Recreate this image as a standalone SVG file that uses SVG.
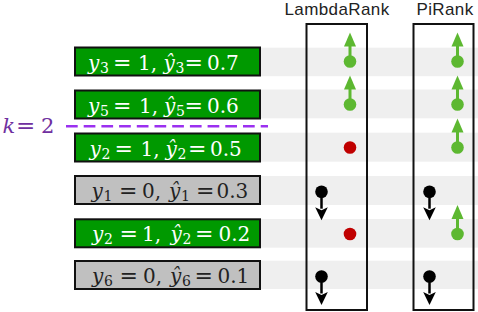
<svg xmlns="http://www.w3.org/2000/svg" xmlns:xlink="http://www.w3.org/1999/xlink" width="478" height="312" viewBox="0 0 478 312">
<style>
.band{fill:#efefef}
.box{stroke:#111;stroke-width:2}
.pos{fill:#009900}
.neg{fill:#c0c0c0}
.t{font-family:"DejaVu Serif","Liberation Serif",serif;font-size:20px}
.tw{fill:#ffffff}
.tb{fill:#222222}
.i{font-style:italic}
.s{font-size:14px}
.e{font-size:22px}
.col{fill:none;stroke:#111;stroke-width:2}
.hdr{font-family:"Liberation Sans",Arial,sans-serif;font-size:17px;fill:#222;text-anchor:middle;letter-spacing:0.4px}
</style>
<defs>
<g id="up">
<line x1="0" y1="0" x2="0" y2="-16" stroke="#5db831" stroke-width="3"/>
<polygon points="0,-29 -6,-15 6,-15" fill="#5db831"/>
<circle cx="0" cy="0" r="6.3" fill="#5db831"/>
</g>
<g id="down">
<line x1="0" y1="0" x2="0" y2="17" stroke="#000" stroke-width="2.5"/>
<polygon points="0,28.5 -6.3,15.5 0,18.5 6.3,15.5" fill="#000"/>
<circle cx="0" cy="0" r="6.3" fill="#000"/>
</g>
</defs>
<g id="bands">
<rect class="band" x="258" y="47.7" width="220" height="28.5"/>
<rect class="band" x="258" y="89.5" width="220" height="28.8"/>
<rect class="band" x="258" y="132.7" width="220" height="29"/>
<rect class="band" x="258" y="176" width="220" height="29"/>
<rect class="band" x="258" y="219" width="220" height="28.7"/>
<rect class="band" x="258" y="260.7" width="220" height="28.3"/>
</g>
<g id="header">
<text class="hdr" x="337" y="15">LambdaRank</text>
<text class="hdr" x="445" y="15">PiRank</text>
</g>
<g id="col-lambda"><rect class="col" x="306.5" y="24" width="60.5" height="286"/></g>
<g id="col-pirank"><rect class="col" x="413.5" y="24" width="60" height="286"/></g>
<g id="k-line">
<text x="2.5" y="132.5" font-family="DejaVu Serif,Liberation Serif,serif" font-size="21" fill="#7030a0"><tspan font-style="italic">k</tspan><tspan x="16" font-size="23">=</tspan><tspan x="41">2</tspan></text>
<line x1="66" y1="126.3" x2="268" y2="126.3" stroke="#9b30f0" stroke-width="2.6" stroke-dasharray="11.7 6"/>
</g>
<g id="row1">
<rect class="box pos" x="75" y="47.5" width="185" height="28"/>
<text class="t tw" y="69.5"><tspan class="i" x="88">y</tspan><tspan class="s" x="100" dy="3">3</tspan><tspan class="e" x="113" dy="-3">=</tspan><tspan x="138">1,</tspan><tspan class="i" x="163.5">ŷ</tspan><tspan class="s" x="175.5" dy="3">3</tspan><tspan class="e" x="184.5" dy="-3">=</tspan><tspan x="207">0.7</tspan></text>
</g>
<g id="row2">
<rect class="box pos" x="75" y="90.5" width="185" height="28"/>
<text class="t tw" y="112.5"><tspan class="i" x="88">y</tspan><tspan class="s" x="100" dy="3">5</tspan><tspan class="e" x="113" dy="-3">=</tspan><tspan x="139">1,</tspan><tspan class="i" x="164">ŷ</tspan><tspan class="s" x="176" dy="3">5</tspan><tspan class="e" x="184.5" dy="-3">=</tspan><tspan x="207">0.6</tspan></text>
</g>
<g id="row3">
<rect class="box pos" x="75" y="133.5" width="185" height="28"/>
<text class="t tw" y="155.5"><tspan class="i" x="89.5">y</tspan><tspan class="s" x="101.5" dy="3">2</tspan><tspan class="e" x="114.5" dy="-3">=</tspan><tspan x="140.5">1,</tspan><tspan class="i" x="165.5">ŷ</tspan><tspan class="s" x="177.5" dy="3">2</tspan><tspan class="e" x="188" dy="-3">=</tspan><tspan x="210">0.5</tspan></text>
</g>
<g id="row4">
<rect class="box neg" x="75" y="176" width="185" height="28"/>
<text class="t tb" y="198"><tspan class="i" x="91.5">y</tspan><tspan class="s" x="103.5" dy="3">1</tspan><tspan class="e" x="119" dy="-3">=</tspan><tspan x="142">0,</tspan><tspan class="i" x="169">ŷ</tspan><tspan class="s" x="181" dy="3">1</tspan><tspan class="e" x="196" dy="-3">=</tspan><tspan x="216.5">0.3</tspan></text>
</g>
<g id="row5">
<rect class="box pos" x="75" y="219.3" width="185" height="28"/>
<text class="t tw" y="241.3"><tspan class="i" x="92">y</tspan><tspan class="s" x="104" dy="3">2</tspan><tspan class="e" x="119.5" dy="-3">=</tspan><tspan x="142">1,</tspan><tspan class="i" x="170.5">ŷ</tspan><tspan class="s" x="182.5" dy="3">2</tspan><tspan class="e" x="195" dy="-3">=</tspan><tspan x="218.5">0.2</tspan></text>
</g>
<g id="row6">
<rect class="box neg" x="75" y="261" width="185" height="28"/>
<text class="t tb" y="283"><tspan class="i" x="92">y</tspan><tspan class="s" x="104" dy="3">6</tspan><tspan class="e" x="119.5" dy="-3">=</tspan><tspan x="143">0,</tspan><tspan class="i" x="170">ŷ</tspan><tspan class="s" x="182" dy="3">6</tspan><tspan class="e" x="194.5" dy="-3">=</tspan><tspan x="217.5">0.1</tspan></text>
</g>
<g id="connectors">
<use xlink:href="#up" x="350" y="61.5"/>
<use xlink:href="#up" x="350" y="104.5"/>
<circle cx="350" cy="147.5" r="6.3" fill="#c00000"/>
<use xlink:href="#down" x="321.5" y="191.7"/>
<circle cx="350" cy="234" r="6.3" fill="#c00000"/>
<use xlink:href="#down" x="321.5" y="276.5"/>
<use xlink:href="#up" x="457.5" y="61.5"/>
<use xlink:href="#up" x="457.5" y="104.5"/>
<use xlink:href="#up" x="457.5" y="147.5"/>
<use xlink:href="#down" x="429.5" y="191.7"/>
<use xlink:href="#up" x="457.5" y="234"/>
<use xlink:href="#down" x="429.5" y="276.5"/>
</g>
</svg>
